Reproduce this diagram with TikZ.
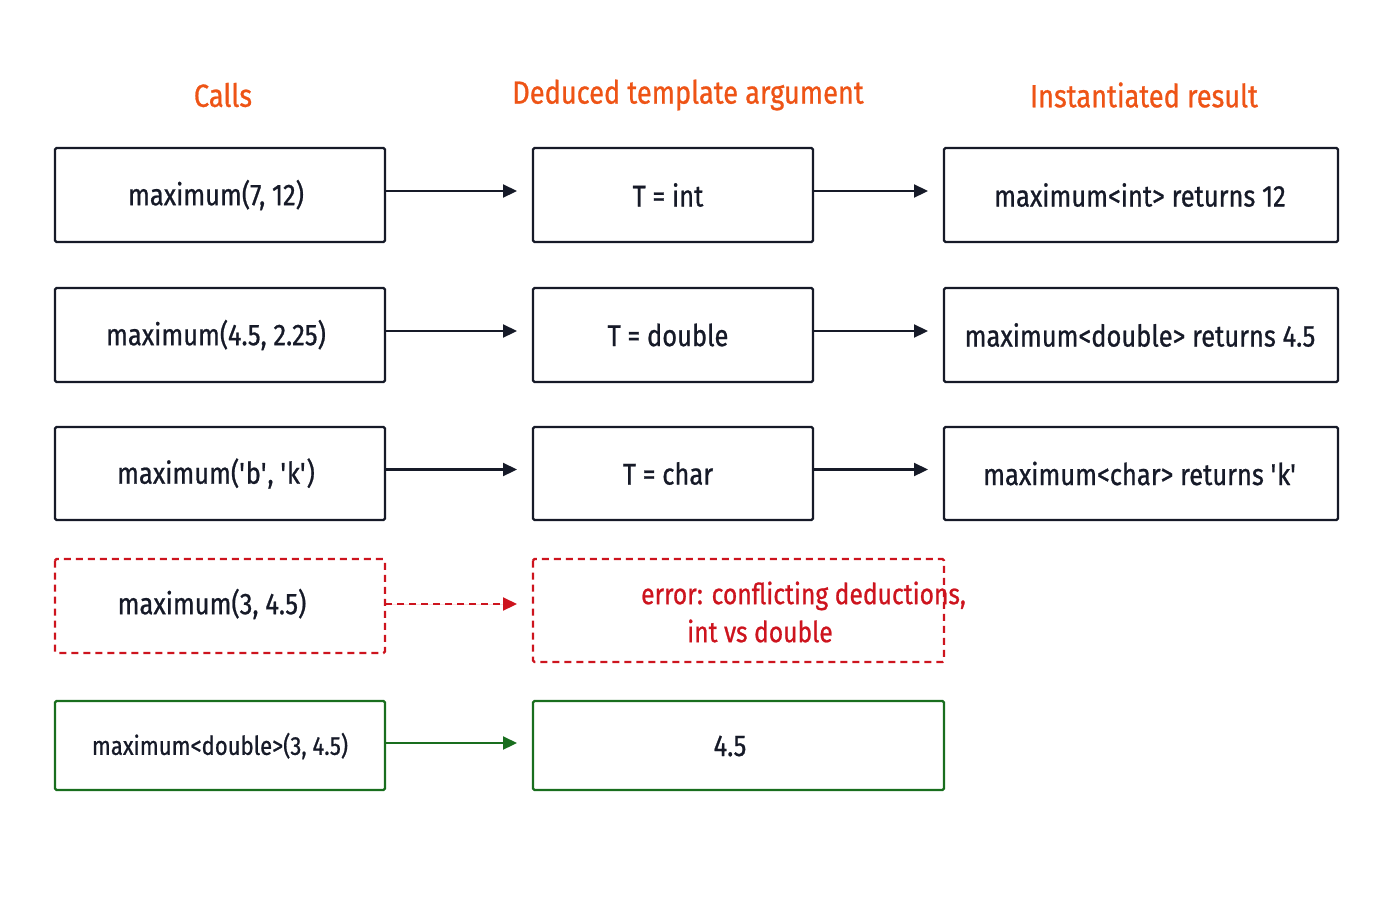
\documentclass[tikz,border=0pt]{standalone}
\usepackage{fontspec}
\setmainfont{Fira Sans}[FakeStretch=0.85,FakeBold=0.8]
\usetikzlibrary{arrows.meta}
\definecolor{ink}{RGB}{22,26,40}
\definecolor{hdr}{RGB}{238,84,22}
\definecolor{err}{RGB}{205,20,30}
\definecolor{ok}{RGB}{25,110,30}
\newcommand{\sq}{\textquotesingle}
\begin{document}
\begin{tikzpicture}[x=1pt,y=-1pt,
 box/.style={draw=ink,line width=2.2pt,rounded corners=1.5pt,font=\fontsize{30}{36}\selectfont,text=ink},
 ebox/.style={box,draw=err,dash pattern=on 7pt off 5pt},
 gbox/.style={box,draw=ok},
 hd/.style={text=hdr,font=\fontsize{32}{38}\selectfont},
 arr/.style={draw=ink,line width=2.2pt,-{Triangle[length=14pt,width=13pt]}}]
\useasboundingbox (0,0) rectangle (1400,900);
\node[hd] (h1) at (223,95) {Calls};
\node[hd] (h2) at (688,95) {Deduced template argument};
\node[hd] (h3) at (1144,95) {Instantiated result};
\foreach \t/\u/\v/\ya/\yb/\n in {{maximum(7, 12)}/{T = int}/{maximum<int> returns 12}/148/242/1,
 {maximum(4.5, 2.25)}/{T = double}/{maximum<double> returns 4.5}/288/382/2,
 {maximum(\sq b\sq, \sq k\sq)}/{T = char}/{maximum<char> returns \sq k\sq}/427/520/3}{
 \draw[box] (55,\ya) rectangle (385,\yb);
 \node[box,draw=none] (a\n) at (216,{(\ya+\yb)/2}) {\t};
 \draw[box] (533,\ya) rectangle (813,\yb);
 \node[box,draw=none] (b\n) at (668,{(\ya+\yb)/2}) {\u};
 \draw[box] (944,\ya) rectangle (1338,\yb);
 \node[box,draw=none] (c\n) at (1140,{(\ya+\yb)/2}) {\v};
 \coordinate (p\n) at (385,{(\ya+\yb)/2-4});
 \coordinate (q\n) at (517,{(\ya+\yb)/2-4});
 \coordinate (r\n) at (813,{(\ya+\yb)/2-4});
 \coordinate (s\n) at (928,{(\ya+\yb)/2-4});
 \draw[arr] (p\n) -- (q\n);
 \draw[arr] (r\n) -- (s\n);
}
\draw[ebox] (55,559) rectangle (385,653);
\node[box,draw=none] (a4) at (212,604) {maximum(3, 4.5)};
\draw[ebox] (533,559) rectangle (944,662);
\node[box,draw=none,text=err,align=center,font=\fontsize{29}{38}\selectfont] (b4) at (760,612) {\hspace*{3em}error: conflicting deductions,\\int vs double};
\coordinate (p4) at (385,604); \coordinate (q4) at (517,604);
\draw[arr,draw=err,fill=err,dash pattern=on 7pt off 5pt] (p4) -- (q4);
\draw[gbox] (55,701) rectangle (385,790);
\node[box,draw=none,font=\fontsize{26}{30}\selectfont] (a5) at (220,746) {maximum<double>(3, 4.5)};
\draw[gbox] (533,701) rectangle (944,790);
\node[box,draw=none] (b5) at (730,746) {4.5};
\coordinate (p5) at (385,743); \coordinate (q5) at (517,743);
\draw[arr,draw=ok,fill=ok] (p5) -- (q5);
\end{tikzpicture}
\end{document}
